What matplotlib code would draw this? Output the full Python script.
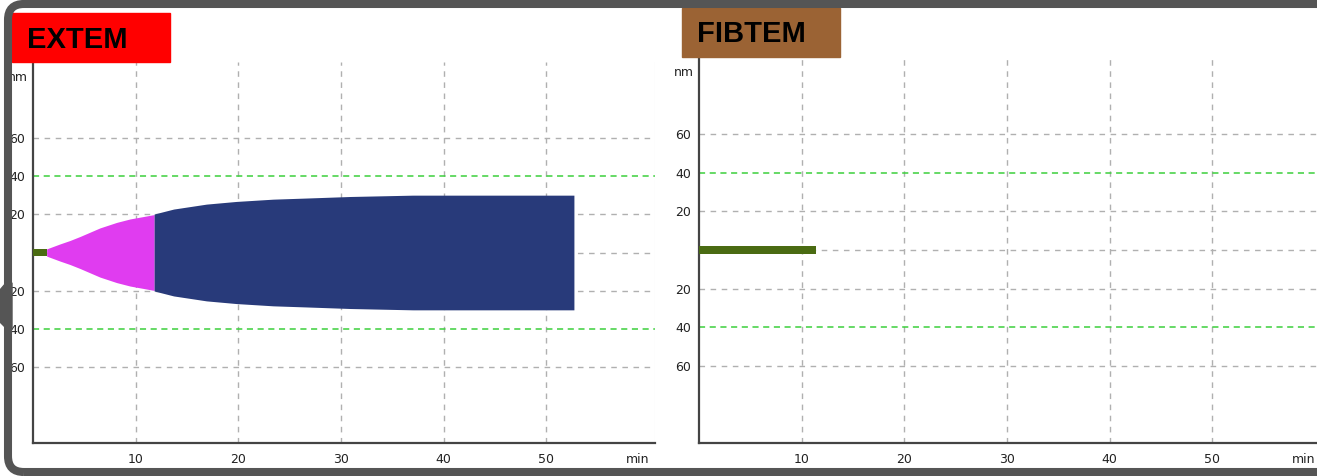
import matplotlib.pyplot as plt
import matplotlib.transforms as mtransforms
from matplotlib.patches import Rectangle, FancyBboxPatch, Polygon

# EXTEM trace (half amplitude, mm)
ex_green_t = [0, 1.35]
ex_green_a = [1.9, 1.9]
ex_pink_t = [1.33, 2.63, 3.6, 4.58, 6.52, 8.15, 9.45, 11.8]
ex_pink_a = [1.9, 4.5, 6.3, 8.4, 12.9, 15.8, 17.6, 19.9]
ex_navy_t = [11.8, 13.7, 16.9, 19.8, 23.4, 26.7, 30.9, 37.0, 52.7]
ex_navy_a = [20.2, 22.8, 25.4, 26.8, 28.0, 28.6, 29.4, 30.1, 30.1]

# FIBTEM trace
fib_t = [0, 11.4]
fib_a = [2.3, 2.3]

x_ticks = [10, 20, 30, 40, 50]
y_ticks = [-60, -40, -20, 20, 40, 60]
y_grid_gray = [-60, -20, 0, 20, 60]
y_grid_green = [-40, 40]

W, H = 1317, 476
fig = plt.figure(figsize=(W / 100, H / 100), dpi=100)
fig.patch.set_facecolor('white')


def px(x0, y0, w, h):
    # pixel box (top-left origin) -> figure fraction rect
    return [x0 / W, 1 - (y0 + h) / H, w / W, h / H]


def setup(ax):
    ax.set_xlim(0, 60.6)
    ax.set_ylim(-100, 100)
    for v in x_ticks:
        ax.axvline(v, color='#b0b0b0', lw=1, ls=(0, (4, 4)), zorder=1)
    for v in y_grid_gray:
        ax.axhline(v, color='#b0b0b0', lw=1, ls=(0, (4, 4)), zorder=1)
    for v in y_grid_green:
        ax.axhline(v, color='#3ccf3c', lw=1.1, ls=(0, (4, 3)), zorder=1)
    ax.set_xticks(x_ticks)
    ax.set_xticklabels([str(v) for v in x_ticks])
    ax.set_yticks(y_ticks)
    ax.set_yticklabels([str(abs(v)) for v in y_ticks])
    ax.tick_params(length=0, labelsize=9, colors='#222222')
    ax.tick_params(axis='x', pad=7)
    ax.tick_params(axis='y', pad=5.5)
    for s in ['top', 'right']:
        ax.spines[s].set_visible(False)
    for s in ['left', 'bottom']:
        ax.spines[s].set_color('#444444')
        ax.spines[s].set_linewidth(1.6)
    tr = mtransforms.blended_transform_factory(ax.transAxes, ax.transData)
    ax.text(-0.008, 92, 'nm', transform=tr, ha='right', va='center',
            fontsize=9, color='#222222')
    trx = mtransforms.blended_transform_factory(ax.transData, ax.transAxes)
    ax.text(58.9, -0.027, 'min', transform=trx, ha='center', va='top',
            fontsize=9, color='#222222')


ax1 = fig.add_axes(px(33, 62, 622, 381))
setup(ax1)
ax1.fill_between(ex_green_t, [-a for a in ex_green_a], ex_green_a,
                 color='#4a6b12', lw=0, zorder=3)
ax1.fill_between(ex_pink_t, [-a for a in ex_pink_a], ex_pink_a,
                 color='#e03cf0', lw=0, zorder=3)
ax1.fill_between(ex_navy_t, [-a for a in ex_navy_a], ex_navy_a,
                 color='#283a7a', lw=0, zorder=3)
ax1.axvline(60.6, color='#e8e8e8', lw=0.8)

ax2 = fig.add_axes(px(699, 57, 622, 386))
setup(ax2)
ax2.fill_between(fib_t, [-a for a in fib_a], fib_a,
                 color='#4a6b12', lw=0, zorder=3)

# header boxes
fig.patches.append(Rectangle((12 / W, 1 - 62 / H), 158 / W, 49 / H,
                             transform=fig.transFigure, color='#ff0000', zorder=5))
fig.text(27 / W, 1 - 40 / H, 'EXTEM', fontsize=21, fontweight='bold',
         family='Liberation Sans', va='center', ha='left', zorder=6)
fig.patches.append(Rectangle((682 / W, 1 - 57 / H), 158 / W, 49 / H,
                             transform=fig.transFigure, color='#9b6334', zorder=5))
fig.text(697 / W, 1 - 34 / H, 'FIBTEM', fontsize=21, fontweight='bold',
         family='Liberation Sans', va='center', ha='left', zorder=6)

# dark outer frame
frame = FancyBboxPatch((8 / W, 4 / H), 1400 / W, 468 / H,
                       boxstyle='round,pad=0,rounding_size=0.012',
                       transform=fig.transFigure, fill=False,
                       edgecolor='#555555', lw=5.8, zorder=7,
                       mutation_aspect=W / H)
fig.patches.append(frame)
tab = Polygon([(0, 1 - 290 / H), (6 / W, 1 - 283 / H), (12 / W, 1 - 283 / H),
               (12 / W, 1 - 328 / H), (6 / W, 1 - 328 / H), (0, 1 - 322 / H)],
              closed=True, transform=fig.transFigure, color='#555555', zorder=7)
fig.patches.append(tab)

fig.savefig('out.png', dpi=100)
